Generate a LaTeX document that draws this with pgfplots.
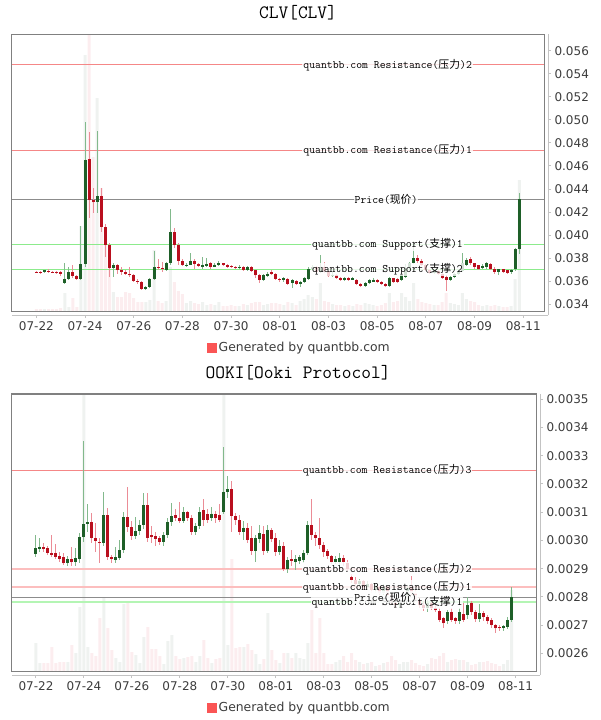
\documentclass[border=0pt]{standalone}
\usepackage{fontspec}
\setmainfont{DejaVu Sans}
\newfontfamily\cjk[Scale=0.95]{Noto Sans CJK SC}
\usepackage{pgfplots}
\pgfplotsset{compat=1.18}
\usepackage{pgfplotstable}

\definecolor{framegray}{RGB}{128,128,128}
\definecolor{tickgray}{RGB}{195,195,195}
\definecolor{ticktext}{RGB}{60,60,60}
\definecolor{upbody}{RGB}{30,95,40}
\definecolor{upwick}{RGB}{130,185,140}
\definecolor{downbody}{RGB}{185,15,30}
\definecolor{downwick}{RGB}{235,140,150}
\definecolor{upvol}{RGB}{239,242,240}
\definecolor{downvol}{RGB}{252,237,239}
\definecolor{resline}{RGB}{245,135,135}
\definecolor{resline2}{RGB}{252,190,190}
\definecolor{priceline}{RGB}{140,140,140}
\definecolor{supline}{RGB}{140,235,140}
\definecolor{supline2}{RGB}{180,245,180}
\definecolor{legred}{RGB}{250,85,85}

% CLV, 4h candles, prices in units of 0.001; v = volume (relative)
\pgfplotstableread{
i o h l c v
2 36.78 37.00 36.72 36.95 2
7 35.85 37.54 35.80 36.23 18
8 36.23 37.26 36.10 36.81 4
11 36.23 40.78 36.15 37.48 85
12 37.48 49.85 37.26 46.52 256
15 42.84 49.07 41.90 43.39 213
19 37.19 37.60 36.40 37.39 19
27 35.36 35.60 35.25 35.50 9
28 35.50 36.30 35.40 36.23 11
29 36.23 38.64 36.10 37.24 61
32 36.96 37.70 36.90 37.54 10
33 37.54 42.23 37.40 40.28 44
37 37.30 37.60 37.20 37.45 8
38 37.45 38.41 37.40 37.77 10
41 37.24 38.11 37.10 37.45 9
42 37.35 38.05 37.20 37.50 6
44 37.27 37.60 37.20 37.45 6
45 37.40 37.80 37.30 37.55 9
50 37.15 37.40 37.05 37.27 5
52 36.94 37.30 36.85 37.24 6
56 36.12 36.60 36.00 36.52 6
57 36.43 36.80 36.35 36.67 7
61 36.09 36.40 35.95 36.29 6
63 35.85 36.20 35.45 36.09 8
65 35.73 36.00 35.50 35.95 10
66 35.94 36.40 35.85 36.32 12
67 36.17 37.20 36.10 37.10 16
68 37.10 37.40 37.00 37.20 14
70 36.80 38.26 36.70 37.24 28
73 36.45 36.80 36.35 36.55 7
76 36.15 36.40 36.05 36.30 5
78 36.15 36.35 36.10 36.25 5
81 35.60 35.95 35.50 35.85 8
82 35.85 36.20 35.80 36.15 7
83 35.95 36.25 35.90 36.15 6
87 35.56 36.35 35.50 36.26 18
90 36.09 36.60 36.00 36.52 18
91 36.40 37.50 36.30 37.13 14
92 37.13 37.70 37.00 37.56 10
93 37.56 39.50 37.50 38.00 28
98 36.70 37.00 36.60 36.90 6
102 36.09 36.45 36.00 36.35 8
103 36.35 36.70 36.25 36.60 7
104 36.60 37.00 36.50 36.90 6
105 36.90 38.45 36.80 37.60 18
106 37.39 38.00 37.30 37.88 12
110 37.15 37.50 37.05 37.35 5
111 37.20 37.65 37.10 37.56 6
114 36.81 37.10 36.52 37.02 5
117 36.76 37.10 36.65 36.96 5
118 37.04 38.90 36.90 38.78 32
119 38.78 43.65 38.40 43.10 131
}\clvUp

\pgfplotstableread{
i o h l c v
0 36.83 36.92 36.70 36.79 2
1 36.80 36.88 36.70 36.74 2
3 36.92 37.02 36.80 36.84 2
4 36.84 36.90 36.72 36.76 2
5 36.78 36.85 36.66 36.70 2
6 36.81 36.88 36.47 36.67 3
9 36.81 37.39 36.30 36.46 13
10 36.46 36.55 36.15 36.23 4
13 46.58 48.98 41.53 43.04 290
14 43.04 44.09 41.91 42.84 154
16 43.39 44.06 40.30 40.72 123
17 40.72 41.00 38.11 39.13 84
18 39.13 39.30 36.37 37.19 51
20 37.39 37.50 36.60 36.96 14
21 36.96 37.26 36.50 36.81 14
22 36.81 37.00 36.50 36.61 19
23 36.61 37.26 36.40 36.52 18
24 36.52 36.60 35.90 36.03 13
25 36.03 36.20 35.80 35.94 9
26 35.94 36.00 35.21 35.36 9
30 37.24 37.90 37.00 37.15 10
31 37.15 37.68 36.81 37.05 8
34 40.28 40.58 38.90 39.13 29
35 39.13 39.30 37.39 37.77 20
36 37.77 37.90 37.30 37.39 17
39 37.77 37.90 37.02 37.48 8
40 37.48 37.60 37.20 37.33 7
43 37.55 37.70 37.10 37.24 7
46 37.55 37.60 37.30 37.40 5
47 37.40 37.50 37.20 37.27 5
48 37.35 37.45 37.15 37.24 6
49 37.27 37.35 37.05 37.12 5
51 37.24 37.35 36.90 36.96 7
53 37.24 37.30 36.85 36.90 8
54 36.96 37.00 36.32 36.52 9
55 36.52 36.60 35.85 36.09 9
58 36.81 36.95 36.50 36.61 8
59 36.61 36.70 36.10 36.23 8
60 36.23 36.30 35.90 36.09 7
62 36.23 36.30 35.70 35.80 9
64 36.05 36.10 35.70 35.80 6
69 37.20 37.30 36.70 36.80 12
71 37.24 37.70 36.75 36.85 10
72 36.85 36.95 36.35 36.45 9
74 36.55 36.60 36.20 36.30 6
75 36.30 36.35 36.05 36.15 6
77 36.30 36.35 36.05 36.15 6
79 36.15 36.20 35.70 35.80 7
80 35.80 35.85 35.50 35.60 6
84 36.15 36.20 35.85 35.95 5
85 35.95 36.00 35.75 35.80 6
86 35.80 35.85 35.50 35.56 8
88 36.26 36.30 35.90 35.95 9
89 36.20 36.25 35.85 35.95 10
94 38.00 38.30 37.60 37.74 12
95 37.74 37.90 37.30 37.39 9
96 37.39 37.50 36.90 37.00 8
97 37.00 37.10 36.60 36.70 7
99 36.90 37.00 36.50 36.60 6
100 36.60 36.70 36.20 36.30 9
101 36.35 36.50 35.16 36.09 18
107 37.97 38.10 37.40 37.54 10
108 37.54 37.60 37.10 37.24 9
109 37.39 37.45 37.00 37.10 6
112 37.48 37.60 37.00 37.10 5
113 37.10 37.20 36.60 36.81 6
115 37.02 37.10 36.70 36.81 4
116 36.95 37.00 36.65 36.72 4
}\clvDown

% OOKI, prices in units of 0.0001
\pgfplotstableread{
i o h l c v
0 29.52 30.19 29.42 29.72 28
1 29.70 30.07 29.60 29.78 8
8 29.19 29.45 29.10 29.33 9
10 29.22 29.72 29.10 29.36 18
11 29.33 30.25 29.20 30.13 64
12 30.13 33.52 29.95 30.57 290
13 30.57 31.29 30.30 30.65 24
17 29.92 31.73 29.80 30.90 73
20 29.30 29.78 29.20 29.40 13
21 29.38 30.00 29.30 29.66 9
22 29.66 31.00 29.55 30.82 67
25 30.16 30.84 30.05 30.35 16
26 30.35 30.72 30.20 30.55 8
27 30.55 31.67 30.40 31.25 34
32 29.96 30.30 29.80 30.20 7
33 30.20 30.80 30.10 30.66 30
34 30.66 31.31 30.50 30.85 36
37 30.70 31.20 30.60 31.00 13
40 30.31 30.60 30.20 30.50 9
41 30.50 31.20 30.40 31.02 15
44 30.78 31.20 30.70 30.95 8
47 31.02 33.32 30.95 31.73 290
48 31.73 32.30 31.50 31.83 26
52 30.31 30.70 30.00 30.45 24
55 29.64 30.20 29.25 30.08 17
56 30.05 30.55 29.90 30.25 7
58 29.64 30.55 29.55 30.37 58
61 29.60 30.00 29.50 29.80 8
63 28.98 29.40 28.85 29.30 18
65 29.25 29.50 28.95 29.35 18
66 29.28 29.50 29.15 29.40 13
67 29.31 29.65 29.20 29.57 12
68 29.57 30.70 29.50 30.55 28
75 29.25 29.45 29.15 29.33 9
76 29.25 29.55 29.10 29.38 11
81 28.45 28.65 28.35 28.55 9
83 28.35 28.55 28.25 28.45 8
85 28.25 28.45 28.15 28.35 5
87 28.12 28.45 28.05 28.35 8
91 27.70 27.90 27.60 27.82 7
92 27.82 28.00 27.70 27.90 9
93 27.90 28.40 27.85 28.30 9
98 27.60 27.90 27.45 27.80 7
103 27.13 27.55 27.05 27.47 9
106 27.15 27.60 27.05 27.47 11
108 27.36 28.00 27.20 27.71 9
111 27.20 27.74 27.10 27.42 9
117 26.88 27.00 26.80 26.97 7
118 26.93 27.30 26.85 27.18 11
119 27.18 28.36 27.10 27.98 81
}\ookiUp

\pgfplotstableread{
i o h l c v
2 29.78 29.90 29.60 29.68 8
3 29.72 29.80 29.50 29.57 8
4 29.57 30.18 29.40 29.50 24
5 29.57 29.86 29.35 29.42 8
6 29.45 29.60 29.25 29.33 9
7 29.40 29.55 29.13 29.19 9
9 29.33 29.78 29.10 29.22 26
14 30.65 30.98 29.90 30.08 18
15 30.08 30.60 29.60 29.98 15
16 29.95 30.10 29.19 29.90 53
18 30.90 31.14 29.30 29.42 43
19 29.42 29.50 29.20 29.33 21
23 30.82 31.88 30.30 30.49 70
24 30.49 30.70 30.00 30.16 19
28 31.25 31.69 29.95 30.08 44
29 30.20 30.50 29.90 30.12 22
30 30.14 30.30 29.80 30.05 22
31 30.08 30.15 29.85 29.96 15
35 30.90 31.10 30.70 30.80 15
36 30.80 31.35 30.60 30.70 12
38 31.00 31.05 30.70 30.78 14
39 30.78 30.90 30.20 30.31 15
42 31.08 31.46 30.50 30.72 31
43 30.95 31.10 30.60 30.72 13
45 30.95 31.05 30.60 30.78 12
46 30.90 31.30 30.65 30.72 13
49 31.83 32.10 30.30 30.86 112
50 30.86 30.97 30.55 30.72 23
51 30.72 30.90 30.20 30.31 24
53 30.45 30.60 29.90 30.01 27
54 30.08 30.50 29.50 29.64 21
57 30.22 30.50 29.50 29.64 12
59 30.37 30.45 29.95 30.04 21
60 30.10 30.25 29.45 29.60 11
62 29.80 29.95 28.90 28.98 18
64 29.35 29.65 29.10 29.28 13
69 30.55 31.46 30.00 30.19 61
70 30.19 30.30 29.80 30.10 18
71 30.10 30.78 29.70 29.84 53
72 29.84 29.95 29.40 29.60 18
73 29.64 29.70 29.35 29.45 7
74 29.45 29.50 29.15 29.25 7
77 29.38 29.50 29.10 29.25 15
78 29.20 29.30 28.90 29.00 9
79 28.70 28.80 28.50 28.60 18
80 28.60 28.70 28.35 28.45 11
82 28.55 28.60 28.25 28.35 7
84 28.45 28.50 28.15 28.25 9
86 28.35 28.40 28.05 28.12 6
88 28.35 28.40 28.00 28.05 9
89 28.05 28.10 27.70 27.78 15
90 27.78 27.95 27.60 27.70 11
94 28.30 28.75 28.05 28.15 11
95 28.15 28.25 27.80 27.90 8
96 27.90 28.00 27.60 27.70 6
97 27.70 27.85 27.50 27.60 5
99 27.80 27.85 27.55 27.62 13
100 27.62 27.70 27.45 27.52 12
101 27.50 27.60 27.10 27.18 15
102 27.24 27.30 26.90 27.06 18
104 27.47 27.60 27.10 27.18 11
105 27.24 27.30 27.05 27.15 12
107 27.39 27.78 27.10 27.18 11
109 27.77 27.85 27.35 27.47 6
110 27.47 27.55 27.10 27.20 7
112 27.42 27.50 27.15 27.28 9
113 27.30 27.35 27.05 27.15 10
114 27.18 27.25 26.90 27.00 8
115 27.00 27.05 26.72 26.88 7
116 26.95 27.00 26.80 26.88 5
}\ookiDown

\tikzset{
  lbl/.style={fill=white, fill opacity=0.8, text opacity=1,
    inner xsep=1pt, inner ysep=1pt, font=\fontsize{11.4}{13}\selectfont\ttfamily},
}

\pgfplotsset{
  base/.style={scale only axis, anchor=south west, xmin=-6, xmax=125.1},
  volaxis/.style={base, hide axis, ymin=0, ymax=277},
  priceaxis/.style={base, xtick=\empty, ytick=\empty,
    axis line style={framegray, line width=1pt}},
  tickaxis/.style={scale only axis, anchor=south west, xmin=-6,
    axis x line*=bottom, axis y line*=right,
    x axis line style={-}, y axis line style={-},
    axis line style={tickgray, line width=1pt},
    tick style={tickgray, line width=1pt}, major tick length=3pt, tick align=outside,
    xtick={0,12,...,120},
    xticklabels={07-22,07-24,07-26,07-28,07-30,08-01,08-03,08-05,08-07,08-09,08-11},
    ticklabel style={font=\fontsize{12}{14}\selectfont, text=ticktext},
    title style={anchor=center, font=\fontsize{18.9}{22}\selectfont\ttfamily},
    legend style={anchor=center, draw=none, fill=none,
      font=\fontsize{12.4}{14}\selectfont, text=ticktext}},
  vol/.style={ybar, bar width=3pt, bar shift=0pt, fill=#1, draw=none},
  wick/.style={draw=none, mark=none,
    error bars/y dir=both, error bars/y explicit, error bars/error mark=none,
    error bars/error bar style={draw=#1, line width=1pt}},
  body/.style={draw=none, mark=none,
    error bars/y dir=both, error bars/y explicit, error bars/error mark=none,
    error bars/error bar style={draw=#1, line width=3pt}},
  legsq/.style={legend image code/.code={\fill[legred] (0pt,-4.5pt) rectangle (9pt,4.5pt);}},
}

\begin{document}
\begin{tikzpicture}
\useasboundingbox (0pt,0pt) rectangle (600pt,-720pt);

% ================= CLV =================
\begin{axis}[volaxis, at={(12pt,-311pt)}, width=532pt, height=277pt]
  \addplot[vol=upvol] table[x=i, y=v] {\clvUp};
  \addplot[vol=downvol] table[x=i, y=v] {\clvDown};
\end{axis}

\begin{axis}[priceaxis, at={(12pt,-311pt)}, width=532pt, height=277pt,
    ymin=33.419, ymax=57.449]
  \addplot[resline, line width=1pt] coordinates {(-6,54.76) (125.1,54.76)};
  \addplot[resline, line width=1pt] coordinates {(-6,47.36) (125.1,47.36)};
  \addplot[priceline, line width=1pt] coordinates {(-6,43.10) (125.1,43.10)};
  \addplot[supline, line width=1pt] coordinates {(-6,39.19) (125.1,39.19)};
  \addplot[supline, line width=1pt] coordinates {(-6,37.02) (125.1,37.02)};

  \addplot[wick=upwick] table[x=i, y=c, y error plus expr=\thisrow{h}-\thisrow{c},
    y error minus expr=\thisrow{c}-\thisrow{l}] {\clvUp};
  \addplot[wick=downwick] table[x=i, y=c, y error plus expr=\thisrow{h}-\thisrow{c},
    y error minus expr=\thisrow{c}-\thisrow{l}] {\clvDown};
  \addplot[body=upbody] table[x=i, y=c, y error plus expr=0,
    y error minus expr=\thisrow{c}-\thisrow{o}] {\clvUp};
  \addplot[body=downbody] table[x=i, y=c, y error plus expr=\thisrow{o}-\thisrow{c},
    y error minus expr=0] {\clvDown};

  \addplot[draw=none] coordinates {(-6,54.76) (125.1,54.76)}
    node[lbl, pos=0.8667, anchor=east] {quantbb.com Resistance({\cjk 压力})2};
  \addplot[draw=none] coordinates {(-6,47.36) (125.1,47.36)}
    node[lbl, pos=0.8667, anchor=east] {quantbb.com Resistance({\cjk 压力})1};
  \addplot[draw=none] coordinates {(-6,43.10) (125.1,43.10)}
    node[lbl, pos=0.7031, anchor=center] {Price({\cjk 现价})};
  \addplot[draw=none] coordinates {(-6,39.19) (125.1,39.19)}
    node[lbl, pos=0.8497, anchor=east] {quantbb.com Support({\cjk 支撑})1};
  \addplot[draw=none] coordinates {(-6,37.02) (125.1,37.02)}
    node[lbl, pos=0.8497, anchor=east] {quantbb.com Support({\cjk 支撑})2};
\end{axis}

\begin{axis}[tickaxis, at={(12pt,-315pt)}, width=536pt, height=281pt,
    xmax=126.09, ymin=33.072, ymax=57.449,
    ytick={34,36,...,56},
    yticklabels={0.034,0.036,0.038,0.040,0.042,0.044,0.046,0.048,0.050,0.052,0.054,0.056},
    title={CLV[CLV]}, title style={at={(0.5336,1)}, yshift=15pt},
    legend style={at={(0.5364,-0.1174)}}]
  \addlegendimage{legsq}
  \addlegendentry{Generated by quantbb.com}
\end{axis}

% ================= OOKI =================
\begin{axis}[volaxis, at={(12pt,-671pt)}, width=524pt, height=277pt]
  \addplot[vol=upvol] table[x=i, y=v] {\ookiUp};
  \addplot[vol=downvol] table[x=i, y=v] {\ookiDown};
\end{axis}

\begin{axis}[priceaxis, at={(12pt,-671pt)}, width=524pt, height=277pt,
    ymin=25.373, ymax=35.188]
  \addplot[resline, line width=1pt] coordinates {(-6,32.495) (125.1,32.495)};
  \addplot[resline2, line width=1.6pt] coordinates {(-6,28.99) (125.1,28.99)};
  \addplot[resline2, line width=1.6pt] coordinates {(-6,28.35) (125.1,28.35)};
  \addplot[supline2, line width=1.6pt] coordinates {(-6,27.82) (125.1,27.82)};
  \addplot[priceline, line width=1pt] coordinates {(-6,27.98) (125.1,27.98)};

  \addplot[wick=upwick] table[x=i, y=c, y error plus expr=\thisrow{h}-\thisrow{c},
    y error minus expr=\thisrow{c}-\thisrow{l}] {\ookiUp};
  \addplot[wick=downwick] table[x=i, y=c, y error plus expr=\thisrow{h}-\thisrow{c},
    y error minus expr=\thisrow{c}-\thisrow{l}] {\ookiDown};
  \addplot[body=upbody] table[x=i, y=c, y error plus expr=0,
    y error minus expr=\thisrow{c}-\thisrow{o}] {\ookiUp};
  \addplot[body=downbody] table[x=i, y=c, y error plus expr=\thisrow{o}-\thisrow{c},
    y error minus expr=0] {\ookiDown};

  \addplot[draw=none] coordinates {(-6,32.495) (125.1,32.495)}
    node[lbl, pos=0.879, anchor=east] {quantbb.com Resistance({\cjk 压力})3};
  \addplot[draw=none] coordinates {(-6,28.99) (125.1,28.99)}
    node[lbl, pos=0.879, anchor=east] {quantbb.com Resistance({\cjk 压力})2};
  \addplot[draw=none] coordinates {(-6,28.35) (125.1,28.35)}
    node[lbl, pos=0.879, anchor=east] {quantbb.com Resistance({\cjk 压力})1};
  \addplot[draw=none] coordinates {(-6,27.82) (125.1,27.82)}
    node[lbl, pos=0.8619, anchor=east] {quantbb.com Support({\cjk 支撑})1};
  \addplot[draw=none] coordinates {(-6,27.98) (125.1,27.98)}
    node[lbl, pos=0.7132, anchor=center] {Price({\cjk 现价})};
\end{axis}

\begin{axis}[tickaxis, at={(12pt,-675pt)}, width=528pt, height=281pt,
    xmax=126.1, ymin=25.231, ymax=35.188,
    ytick={26,27,...,35},
    yticklabels={0.0026,0.0027,0.0028,0.0029,0.0030,0.0031,0.0032,0.0033,0.0034,0.0035},
    title={OOKI[Ooki Protocol]}, title style={at={(0.5417,1)}, yshift=15pt},
    legend style={at={(0.5445,-0.1174)}}]
  \addlegendimage{legsq}
  \addlegendentry{Generated by quantbb.com}
\end{axis}
\end{tikzpicture}
\end{document}
